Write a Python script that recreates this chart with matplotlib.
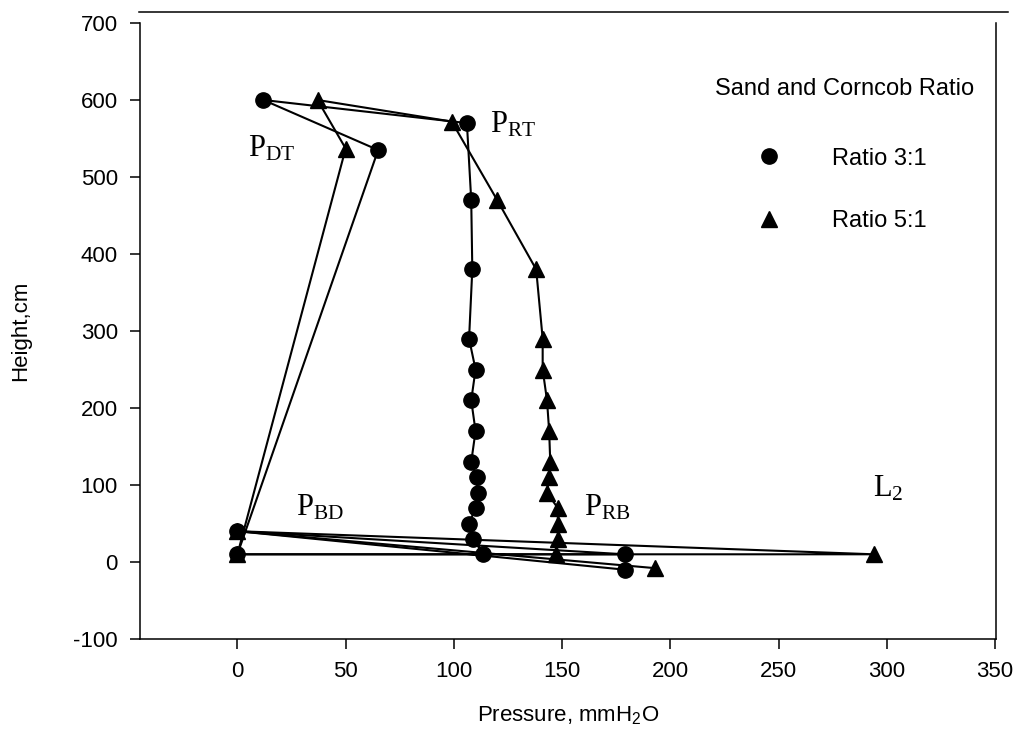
import matplotlib
matplotlib.use("Agg")
import matplotlib.pyplot as plt
from matplotlib.lines import Line2D

plt.rcParams["font.family"] = ["Liberation Sans", "DejaVu Sans"]
plt.rcParams["mathtext.fontset"] = "custom"
plt.rcParams["mathtext.rm"] = "Liberation Sans"
plt.rcParams["axes.unicode_minus"] = False

# Ratio 3:1 — pressure (mmH2O) and height (cm), in loop order
ratio31_pressure = [113.5, 109, 107, 110, 111, 110.5, 108, 110, 108, 110, 107, 108.5, 108, 106,
                    12, 65, 0, 179, 0, 179]
ratio31_height = [10, 30, 50, 70, 90, 110, 130, 170, 210, 250, 290, 380, 470, 570,
                  600, 535, 10, 10, 40, -10]

# Ratio 5:1 — pressure (mmH2O) and height (cm), in loop order
ratio51_pressure = [147, 148, 148, 148, 143, 144, 144.5, 144, 143, 141, 141, 138, 120, 99,
                    37, 50, 0, 294, 0, 193]
ratio51_height = [10, 30, 50, 70, 90, 110, 130, 170, 210, 250, 290, 380, 470, 572,
                  600, 537, 10, 10, 40, -8]

series_labels = ["Ratio 3:1", "Ratio 5:1"]
legend_title = "Sand and Corncob Ratio"

x_ticks = [0, 50, 100, 150, 200, 250, 300, 350]
y_ticks = [-100, 0, 100, 200, 300, 400, 500, 600, 700]

# Region labels: (text, pressure, height)
region_labels = [
    (r"$\mathregular{P_{DT}}$", 5, 527),
    (r"$\mathregular{P_{RT}}$", 116.5, 558),
    (r"$\mathregular{P_{BD}}$", 27, 61),
    (r"$\mathregular{P_{RB}}$", 160, 61),
    (r"$\mathregular{L_{2}}$", 293.5, 85),
]

W, H = 1017, 751
fig = plt.figure(figsize=(W / 100, H / 100), dpi=100)
ax = fig.add_axes([140 / W, 1 - 639 / H, (996 - 140) / W, (639 - 23) / H])

# 5:1 drawn first so the 3:1 circles sit on top where points coincide
ax.plot(ratio51_pressure, ratio51_height, color="black", lw=1.5,
        marker="^", ms=11, mfc="black", mec="black", zorder=2)
ax.plot(ratio31_pressure, ratio31_height, color="black", lw=1.5,
        marker="o", ms=11, mfc="black", mec="black", zorder=3)

ax.set_xlim(-45, 350.4)
ax.set_ylim(-100, 700)
ax.set_xticks(x_ticks)
ax.set_yticks(y_ticks)
ax.tick_params(axis="both", direction="out", length=7, width=1.1,
               labelsize=16, colors="black")
ax.tick_params(axis="x", pad=9)
ax.tick_params(axis="y", pad=9)

for side in ("left", "bottom", "right"):
    ax.spines[side].set_linewidth(1.1)
ax.spines["top"].set_visible(False)

ax.set_xlabel(r"Pressure, mmH$\mathregular{_2}$O", fontsize=16, labelpad=16)
ax.set_ylabel("Height,cm", fontsize=16, labelpad=30)

for text, px, hy in region_labels:
    ax.text(px, hy, text, family=["Liberation Serif"], fontsize=22,
            ha="left", va="baseline")

handles = [
    Line2D([], [], ls="none", marker="o", ms=11, color="black"),
    Line2D([], [], ls="none", marker="^", ms=11, color="black"),
]
leg = ax.legend(handles, series_labels, frameon=False, fontsize=17,
                loc="center", bbox_to_anchor=(842 / W, 1 - 190 / H),
                bbox_transform=fig.transFigure, borderpad=0,
                handlelength=1.0, handletextpad=2.2, labelspacing=1.72)
fig.text(845 / W, 1 - 89 / H, legend_title, fontsize=17, ha="center", va="center")

# rule line along the top of the figure
fig.add_artist(Line2D([139 / W, 1008 / W], [1 - 12 / H, 1 - 12 / H],
                      transform=fig.transFigure, color="black", lw=1.1))

fig.savefig("out.png", dpi=100, facecolor="white")
